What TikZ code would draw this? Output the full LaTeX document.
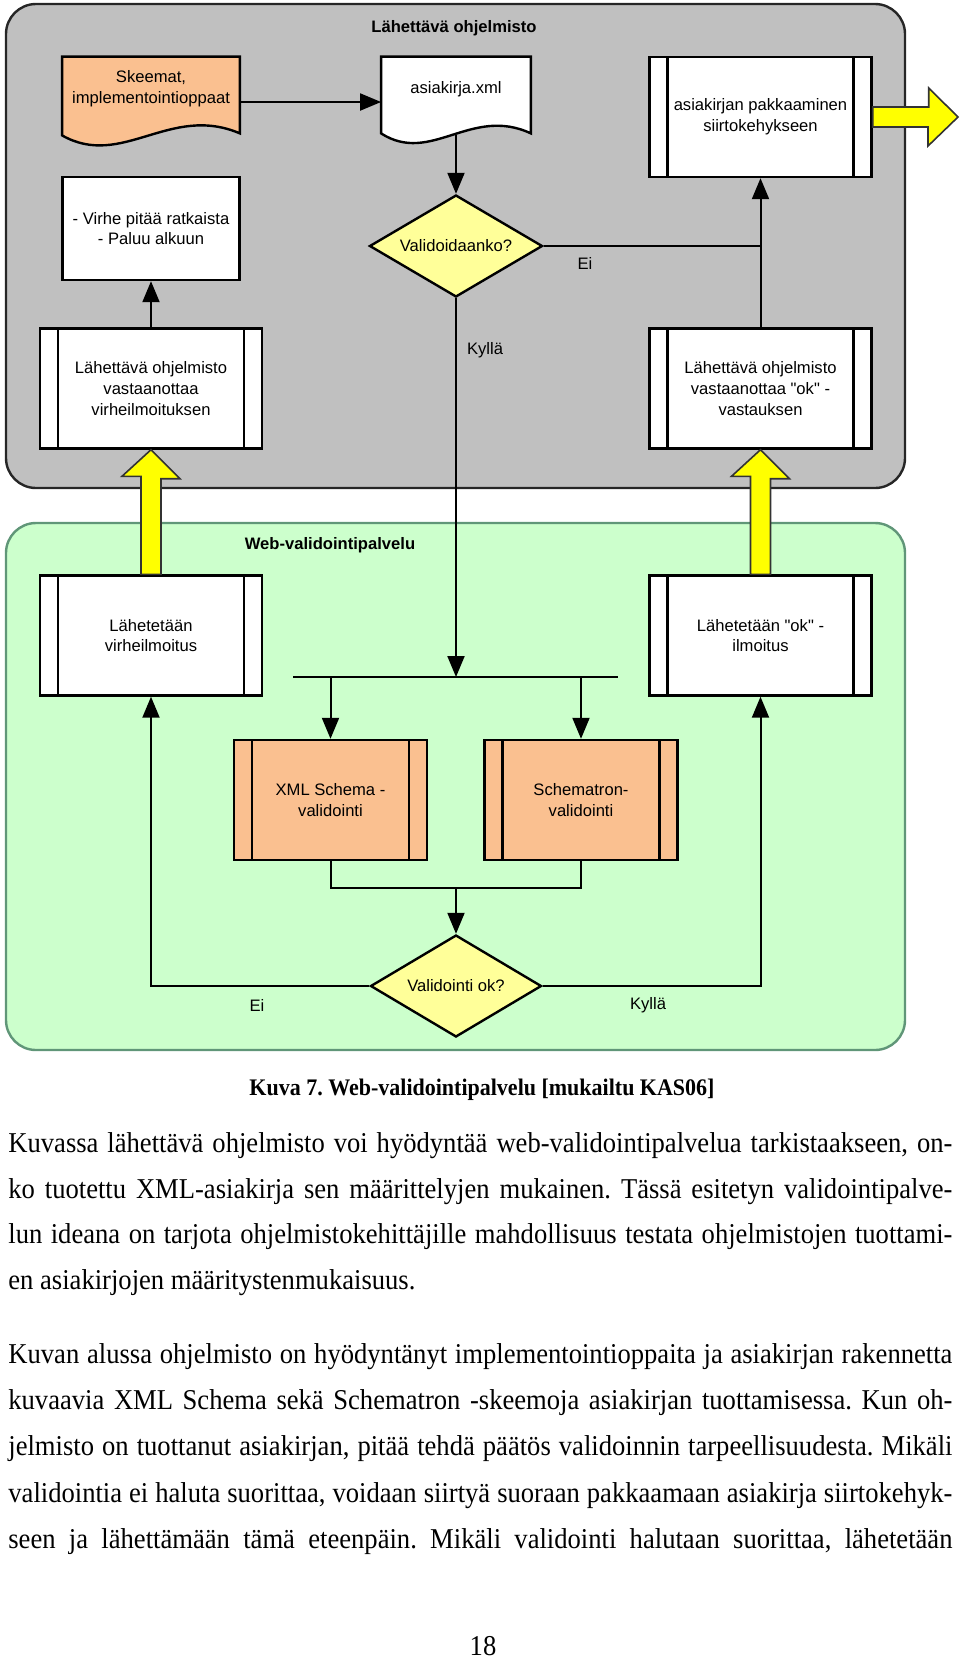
\documentclass[tikz,border=0pt]{standalone}
\usepackage{fontspec}
\setmainfont{Liberation Serif}
\newfontfamily\diagfont{Liberation Sans}
\usepackage{tikz}
\usetikzlibrary{arrows.meta}
\usetikzlibrary{shapes.geometric}
\frenchspacing
\definecolor{panelgray}{RGB}{192,192,192}
\definecolor{panelgreen}{RGB}{204,255,204}
\definecolor{greenline}{RGB}{96,150,120}
\definecolor{peach}{RGB}{250,192,144}
\definecolor{paleyellow}{RGB}{255,255,153}
\definecolor{brightyellow}{RGB}{255,255,0}
\pgfdeclarelayer{panels}
\pgfdeclarelayer{docs}
\pgfsetlayers{panels,docs,main}
\newcommand{\tallline}[1]{\scalebox{1}[1.08]{\makebox[472pt][s]{#1}}}
\tikzset{flow/.style = {line width=1pt, -{Triangle[length=10.5pt,width=8.5pt]}}}
\tikzset{wire/.style = {line width=1pt}}
\tikzset{panel/.style = {line width=1.2pt, rounded corners=15pt}}
\tikzset{diag/.style = {font=\diagfont\fontsize{8.3pt}{10.3pt}\selectfont}}
\tikzset{paneltitle/.style = {font=\diagfont\bfseries\fontsize{8.3pt}{10pt}\selectfont}}
\tikzset{lbl/.style = {diag, inner sep=1pt}}
\tikzset{proc/.style = {draw, diag, line width=1.2pt, fill=white, align=center,
                        minimum width=111pt, minimum height=60pt, inner sep=0pt,
                        path picture={\draw[line width=1.2pt]
                          ([xshift=9pt]path picture bounding box.north west) -- ([xshift=9pt]path picture bounding box.south west)
                          ([xshift=-9pt]path picture bounding box.north east) -- ([xshift=-9pt]path picture bounding box.south east);}}}
\tikzset{note/.style = {draw, diag, line width=1.2pt, fill=white, align=center,
                        minimum width=88.5pt, minimum height=51.5pt, inner sep=0pt}}
\tikzset{docbox/.style = {diag, align=center, minimum width=88.5pt, minimum height=32pt, inner sep=0pt}}
\tikzset{docline/.style = {line width=1.2pt}}
\tikzset{decide/.style = {diamond, draw, diag, line width=1.2pt, fill=paleyellow, inner sep=0pt,
                          aspect=1.7, minimum width=86.5pt, minimum height=51pt}}
\tikzset{fatarrow/.style = {draw=black!80, line width=0.8pt, fill=brightyellow}}
\tikzset{textline/.style = {anchor=base west, inner sep=0pt, font=\fontsize{13.3pt}{15pt}\selectfont}}

\begin{document}
\begin{tikzpicture}[x=0.5pt, y=-0.5pt]
  \useasboundingbox (0,0) rectangle (960,1661);

  \begin{pgfonlayer}{panels}
    \draw[panel, fill=panelgray, draw=black!85] (6,4) rectangle (905,488);
    \draw[panel, fill=panelgreen, draw=greenline] (6,523) rectangle (905,1050);
  \end{pgfonlayer}
  \node[paneltitle] (sendertitle) at (454,28) {Lähettävä ohjelmisto};
  \node[paneltitle] (servicetitle) at (330,545) {Web-validointipalvelu};

  % lahettava ohjelmisto
  \node[docbox] (skeemat) at (151,89) {Skeemat,\\implementointioppaat};
  \node[docbox, minimum width=74.5pt] (asiakirja) at (456,89) {asiakirja.xml};
  \node[decide] (valid1) at (456,246) {Validoidaanko?};
  \node[note] (virhe) at (151,228.5) {- Virhe pitää ratkaista\\- Paluu alkuun};
  \node[proc] (errrecv) at (151,388.5) {Lähettävä ohjelmisto\\vastaanottaa\\virheilmoituksen};
  \node[proc] (pack) at (760.5,117) {asiakirjan pakkaaminen\\siirtokehykseen};
  \node[proc] (okrecv) at (760.5,388.5) {Lähettävä ohjelmisto\\vastaanottaa "ok" -\\vastauksen};

  \begin{pgfonlayer}{docs}
    \draw[docline, fill=peach] (skeemat.north west) -- (skeemat.north east)
      -- ([yshift=-6pt]skeemat.south east) .. controls +(-70,-30) and +(60,34) .. ([yshift=-7pt]skeemat.south west) -- cycle;
    \draw[docline, fill=white] (asiakirja.north west) -- (asiakirja.north east)
      -- ([yshift=-6pt]asiakirja.south east) .. controls +(-60,-28) and +(50,32) .. ([yshift=-6pt]asiakirja.south west) -- cycle;
  \end{pgfonlayer}

  % web-validointipalvelu
  \node[proc] (errsend) at (151,635.5) {Lähetetään\\virheilmoitus};
  \node[proc] (oksend) at (760.5,635.5) {Lähetetään "ok" -\\ilmoitus};
  \node[proc, fill=peach, minimum width=96.5pt] (xmlval) at (330.5,800) {XML Schema -\\validointi};
  \node[proc, fill=peach, minimum width=96.5pt] (schval) at (581,800) {Schematron-\\validointi};
  \node[decide, minimum width=85.5pt] (valid2) at (456,986) {Validointi ok?};

  \coordinate (split) at (456,677);
  \coordinate (barleft) at (293,677);
  \coordinate (barright) at (618,677);
  \coordinate (merge) at (456,888);
  \coordinate (exit) at (958,117);

  \draw[flow] ([yshift=-6.5pt]skeemat.east) -- ([yshift=-6.5pt]asiakirja.west);
  \draw[flow] ([yshift=-7pt]asiakirja.south) -- (valid1.north);
  \draw[wire] (valid1.east) -- (valid1.east -| pack.south);
  \draw[flow] (okrecv.north) -- (pack.south);
  \draw[flow] (errrecv.north) -- (virhe.south);
  \draw[flow] (valid1.south) -- (split);
  \draw[wire] (barleft) -- (barright);
  \draw[flow] (xmlval.north |- split) -- (xmlval.north);
  \draw[flow] (schval.north |- split) -- (schval.north);
  \draw[wire] (xmlval.south) |- (merge) -| (schval.south);
  \draw[flow] (merge) -- (valid2.north);
  \draw[flow] (valid2.west) -| (errsend.south);
  \draw[flow] (valid2.east) -| (oksend.south);

  \node[lbl] (ei1) at (585,263) {Ei};
  \node[lbl] (kylla1) at (485,350) {Kyllä};
  \node[lbl] (ei2) at (257,1005) {Ei};
  \node[lbl] (kylla2) at (648,1005) {Kyllä};

  % keltaiset nuolet
  \draw[fatarrow] ([xshift=-5pt]errsend.north) -- ++(0,-98) -- ++(-19,0) -- (errrecv.south)
    -- ++(29,29) -- ++(-19,0) -- ([xshift=5pt]errsend.north) -- cycle;
  \draw[fatarrow] ([xshift=-5pt]oksend.north) -- ++(0,-98) -- ++(-19,0) -- (okrecv.south)
    -- ++(29,29) -- ++(-19,0) -- ([xshift=5pt]oksend.north) -- cycle;
  \draw[fatarrow] ([yshift=5pt]pack.east) -- ++(56,0) -- ++(0,-19) -- (exit)
    -- ++(-30,29) -- ++(0,-19) -- ([yshift=-5pt]pack.east) -- cycle;

  % teksti
  \node[anchor=base, inner sep=0pt, font=\bfseries\fontsize{11pt}{13pt}\selectfont] (caption) at (482,1095)
    {\scalebox{1}[1.08]{Kuva 7. Web-validointipalvelu [mukailtu KAS06]}};
  \node[textline] (p1a) at (8,1152) {\tallline{Kuvassa lähettävä ohjelmisto voi hyödyntää web-validointipalvelua tarkistaakseen, on-}};
  \node[textline] (p1b) at (8,1198) {\tallline{ko tuotettu XML-asiakirja sen määrittelyjen mukainen. Tässä esitetyn validointipalve-}};
  \node[textline] (p1c) at (8,1243) {\tallline{lun ideana on tarjota ohjelmistokehittäjille mahdollisuus testata ohjelmistojen tuottami-}};
  \node[textline] (p1d) at (8,1289) {\scalebox{1}[1.08]{en asiakirjojen määritystenmukaisuus.}};
  \node[textline] (p2a) at (8,1363) {\tallline{Kuvan alussa ohjelmisto on hyödyntänyt implementointioppaita ja asiakirjan rakennetta}};
  \node[textline] (p2b) at (8,1409) {\tallline{kuvaavia XML Schema sekä Schematron -skeemoja asiakirjan tuottamisessa. Kun oh-}};
  \node[textline] (p2c) at (8,1455) {\tallline{jelmisto on tuottanut asiakirjan, pitää tehdä päätös validoinnin tarpeellisuudesta. Mikäli}};
  \node[textline] (p2d) at (8,1502) {\tallline{validointia ei haluta suorittaa, voidaan siirtyä suoraan pakkaamaan asiakirja siirtokehyk-}};
  \node[textline] (p2e) at (8,1548) {\tallline{seen ja lähettämään tämä eteenpäin. Mikäli validointi halutaan suorittaa, lähetetään}};
  \node[anchor=base, inner sep=0pt, font=\fontsize{13.3pt}{15pt}\selectfont] (pagenum) at (483,1655) {\scalebox{1}[1.08]{18}};
\end{tikzpicture}
\end{document}
